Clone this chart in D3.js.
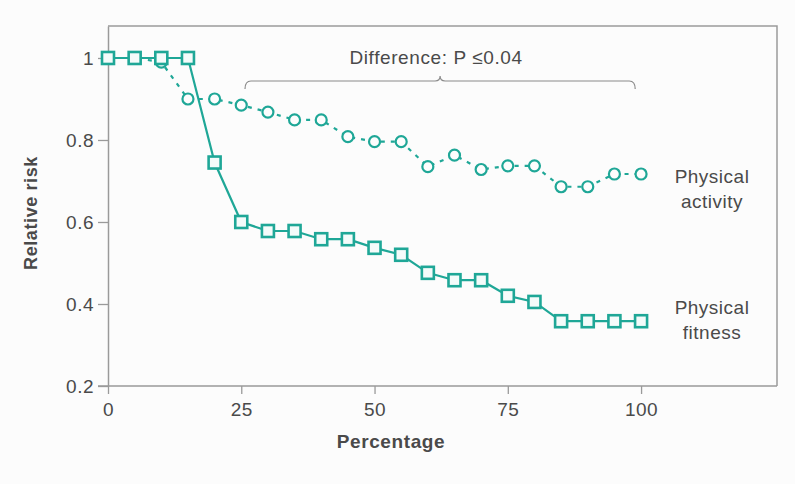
<!DOCTYPE html>
<meta charset="utf-8">
<style>
  body { margin: 0; background: #fcfcfc; }
  text { font-family: "Liberation Sans", Arial, sans-serif; fill: #4a4a4a; }
</style>
<body>
<script src="https://d3js.org/d3.v7.min.js"></script>
<script>
// data
const percentages = [0, 5, 10, 15, 20, 25, 30, 35, 40, 45, 50, 55, 60, 65, 70, 75, 80, 85, 90, 95, 100];
const fitnessRisk = [1, 1, 1, 1, 0.745, 0.60, 0.578, 0.578, 0.558, 0.558, 0.537, 0.52, 0.476, 0.458, 0.458, 0.42, 0.405, 0.358, 0.358, 0.358, 0.358];
const activityRisk = [1, 1, 0.99, 0.90, 0.90, 0.885, 0.868, 0.849, 0.849, 0.808, 0.796, 0.796, 0.735, 0.763, 0.728, 0.737, 0.737, 0.686, 0.686, 0.717, 0.717];
const xTicks = [0, 25, 50, 75, 100];
const yTicks = [0.2, 0.4, 0.6, 0.8, 1];
const seriesLabels = [["Physical", "activity"], ["Physical", "fitness"]];
const annotation = "Difference: P \u22640.04";
const bracketRange = [25.7, 98.9];

const W = 795, H = 484;
const teal = "#1fa797";
const axisGrey = "#9a9a9a";

const x = d3.scaleLinear().domain([0, 125.5]).range([108, 777]);
const y = d3.scaleLinear().domain([0.2, 1.078]).range([386, 26]);

const svg = d3.select("body").append("svg")
  .attr("width", W).attr("height", H);

// frame: top and right borders
svg.append("path")
  .attr("d", `M${x(0)},${y(1.078)}H${x(125.5)}V${y(0.2)}`)
  .attr("fill", "none").attr("stroke", axisGrey).attr("stroke-width", 1.5);

// axes
const xAxis = svg.append("g")
  .attr("transform", `translate(0,${y(0.2)})`)
  .call(d3.axisBottom(x).tickValues(xTicks).tickSize(8).tickPadding(9).tickSizeOuter(0));
const yAxis = svg.append("g")
  .attr("transform", `translate(${x(0)},0)`)
  .call(d3.axisLeft(y).tickValues(yTicks).tickFormat(d3.format("~g")).tickSize(10).tickPadding(4).tickSizeOuter(0));

[xAxis, yAxis].forEach(g => {
  g.select(".domain").attr("stroke", axisGrey).attr("stroke-width", 1.5);
  g.selectAll(".tick line").attr("stroke", axisGrey).attr("stroke-width", 1.3);
  g.selectAll(".tick text")
    .style("font-family", '"Liberation Sans", Arial, sans-serif')
    .style("font-size", "19px").style("letter-spacing", "0.5px")
    .attr("fill", "#4a4a4a");
});
// let bottom axis run under the left axis like the original
xAxis.select(".domain").attr("d", `M${x(0) - 10},0H${x(125.5)}`);

// axis titles
svg.append("text")
  .attr("x", 391).attr("y", 448)
  .attr("text-anchor", "middle")
  .style("font-size", "19px").style("font-weight", "bold").style("letter-spacing", "0.6px")
  .text("Percentage");

svg.append("text")
  .attr("transform", "translate(37,213) rotate(-90)")
  .attr("text-anchor", "middle")
  .style("font-size", "18px").style("font-weight", "bold").style("letter-spacing", "0.6px")
  .text("Relative risk");

// activity: dotted line + circles
const activity = percentages.map((p, i) => [p, activityRisk[i]]);
const fitness = percentages.map((p, i) => [p, fitnessRisk[i]]);
const line = d3.line().x(d => x(d[0])).y(d => y(d[1]));

svg.append("path")
  .datum(activity)
  .attr("d", line)
  .attr("fill", "none").attr("stroke", teal)
  .attr("stroke-width", 2.2).attr("stroke-dasharray", "4,6");

svg.append("g").selectAll("circle")
  .data(activity)
  .join("circle")
  .attr("cx", d => x(d[0])).attr("cy", d => y(d[1]))
  .attr("r", 5.5)
  .attr("fill", "#fdfdfd").attr("stroke", teal).attr("stroke-width", 2.2);

// fitness: solid line + squares
svg.append("path")
  .datum(fitness)
  .attr("d", line)
  .attr("fill", "none").attr("stroke", teal).attr("stroke-width", 2.2);

const sq = 12;
svg.append("g").selectAll("rect")
  .data(fitness)
  .join("rect")
  .attr("x", d => x(d[0]) - sq / 2).attr("y", d => y(d[1]) - sq / 2)
  .attr("width", sq).attr("height", sq)
  .attr("fill", "#f4fbfa").attr("stroke", teal).attr("stroke-width", 2.6);

// bracket annotation
const bx0 = x(bracketRange[0]), bx1 = x(bracketRange[1]);
const bxc = (bx0 + bx1) / 2, by = 81;
svg.append("path")
  .attr("d", `M${bx0},${by + 8}Q${bx0},${by} ${bx0 + 6},${by}H${bxc - 5}Q${bxc},${by} ${bxc},${by - 5}` +
             `Q${bxc},${by} ${bxc + 5},${by}H${bx1 - 6}Q${bx1},${by} ${bx1},${by + 8}`)
  .attr("fill", "none").attr("stroke", "#8a8a8a").attr("stroke-width", 1.2);

svg.append("text")
  .attr("x", bxc - 4).attr("y", 64)
  .attr("text-anchor", "middle")
  .style("font-size", "19px").style("letter-spacing", "0.6px")
  .text(annotation);

// series labels at the right
const labelY = [183, 314];
seriesLabels.forEach((lines, i) => {
  const t = svg.append("text")
    .attr("text-anchor", "middle")
    .style("font-size", "19px").style("letter-spacing", "0.5px");
  lines.forEach((s, j) => {
    t.append("tspan").attr("x", 712).attr("y", labelY[i] + j * 25).text(s);
  });
});
</script>
</body>
